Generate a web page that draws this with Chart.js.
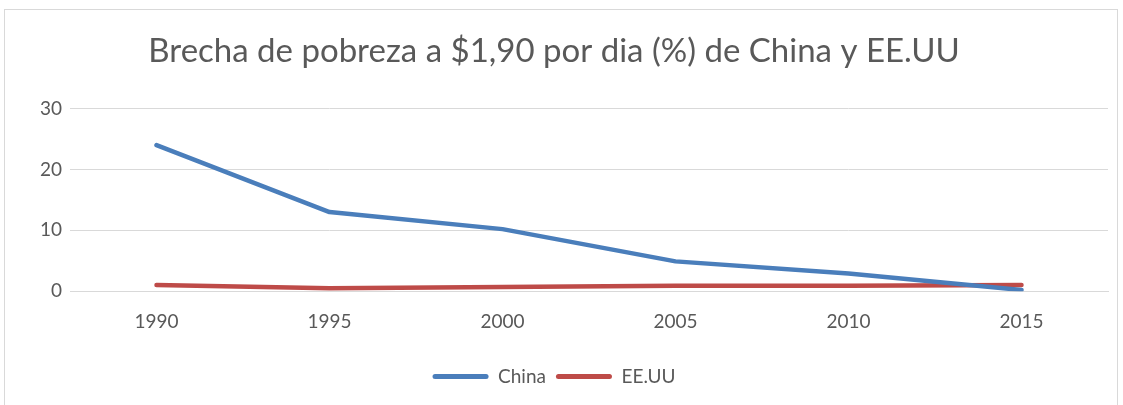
<!DOCTYPE html>
<html>
<head>
<meta charset="utf-8">
<script src="https://cdn.jsdelivr.net/npm/chart.js@4"></script>
<style>
  body { margin: 0; background: #fff; }
  #frame { position: absolute; left: 4px; top: 9px; width: 1112px; height: 420px; border: 1px solid #d9d9d9; }
  #wrap { position: absolute; left: 0; top: 0; width: 1123px; height: 405px; }
</style>
</head>
<body>
<div id="frame"></div>
<div id="wrap"><canvas id="myChart"></canvas></div>
<script>
// datos
const years = ["1990", "1995", "2000", "2005", "2010", "2015"];
const china = [24.0, 13.0, 10.2, 4.9, 2.9, 0.2];
const eeuu = [1.0, 0.5, 0.7, 0.9, 0.9, 1.0];
const yTicks = [0, 10, 20, 30];

const textColor = "#595959";
const gridColor = "#d9d9d9";
const fontName = "Lato, 'Open Sans', sans-serif";

const chart = new Chart("myChart", {
  type: "line",
  data: {
    labels: years,
    datasets: [
      { label: "China", data: china, borderColor: "#4a7ebb", backgroundColor: "#4a7ebb" },
      { label: "EE.UU", data: eeuu, borderColor: "#be4b48", backgroundColor: "#be4b48" }
    ]
  },
  options: {
    responsive: true,
    maintainAspectRatio: false,
    animation: false,
    layout: { padding: { left: 0, right: 15, top: 10, bottom: 9 } },
    elements: {
      line: { borderWidth: 4.5, tension: 0, borderCapStyle: "round", borderJoinStyle: "round" },
      point: { radius: 0 }
    },
    plugins: {
      title: {
        display: true,
        text: "Brecha de pobreza a $1,90 por dia (%) de China y EE.UU",
        color: textColor,
        font: { family: fontName, size: 33, weight: "normal" },
        padding: { top: 22, bottom: 37 }
      },
      legend: {
        position: "bottom",
        labels: {
          color: textColor,
          font: { family: fontName, size: 19 },
          boxWidth: 56,
          boxHeight: 5,
          useBorderRadius: true,
          borderRadius: 2.5,
          padding: 10,
          generateLabels(c) {
            const items = Chart.defaults.plugins.legend.labels.generateLabels(c);
            items.forEach(function(it) { it.lineWidth = 0; it.fillStyle = it.strokeStyle; });
            return items;
          }
        }
      },
      tooltip: { enabled: false }
    },
    scales: {
      x: {
        offset: true,
        afterFit(scale) { scale.height += 5; },
        grid: { display: false, drawTicks: false },
        border: { display: true, color: gridColor, width: 1 },
        ticks: { color: textColor, font: { family: fontName, size: 19 }, padding: 19 }
      },
      y: {
        min: 0,
        max: 30,
        afterBuildTicks(scale) { scale.ticks = yTicks.map(v => ({ value: v })); },
        afterFit(scale) { scale.width = 70; },
        grid: { color: gridColor, lineWidth: 1, drawTicks: false },
        border: { display: false },
        ticks: { color: textColor, font: { family: fontName, size: 19 }, padding: 8 }
      }
    }
  }
});
</script>
</body>
</html>
